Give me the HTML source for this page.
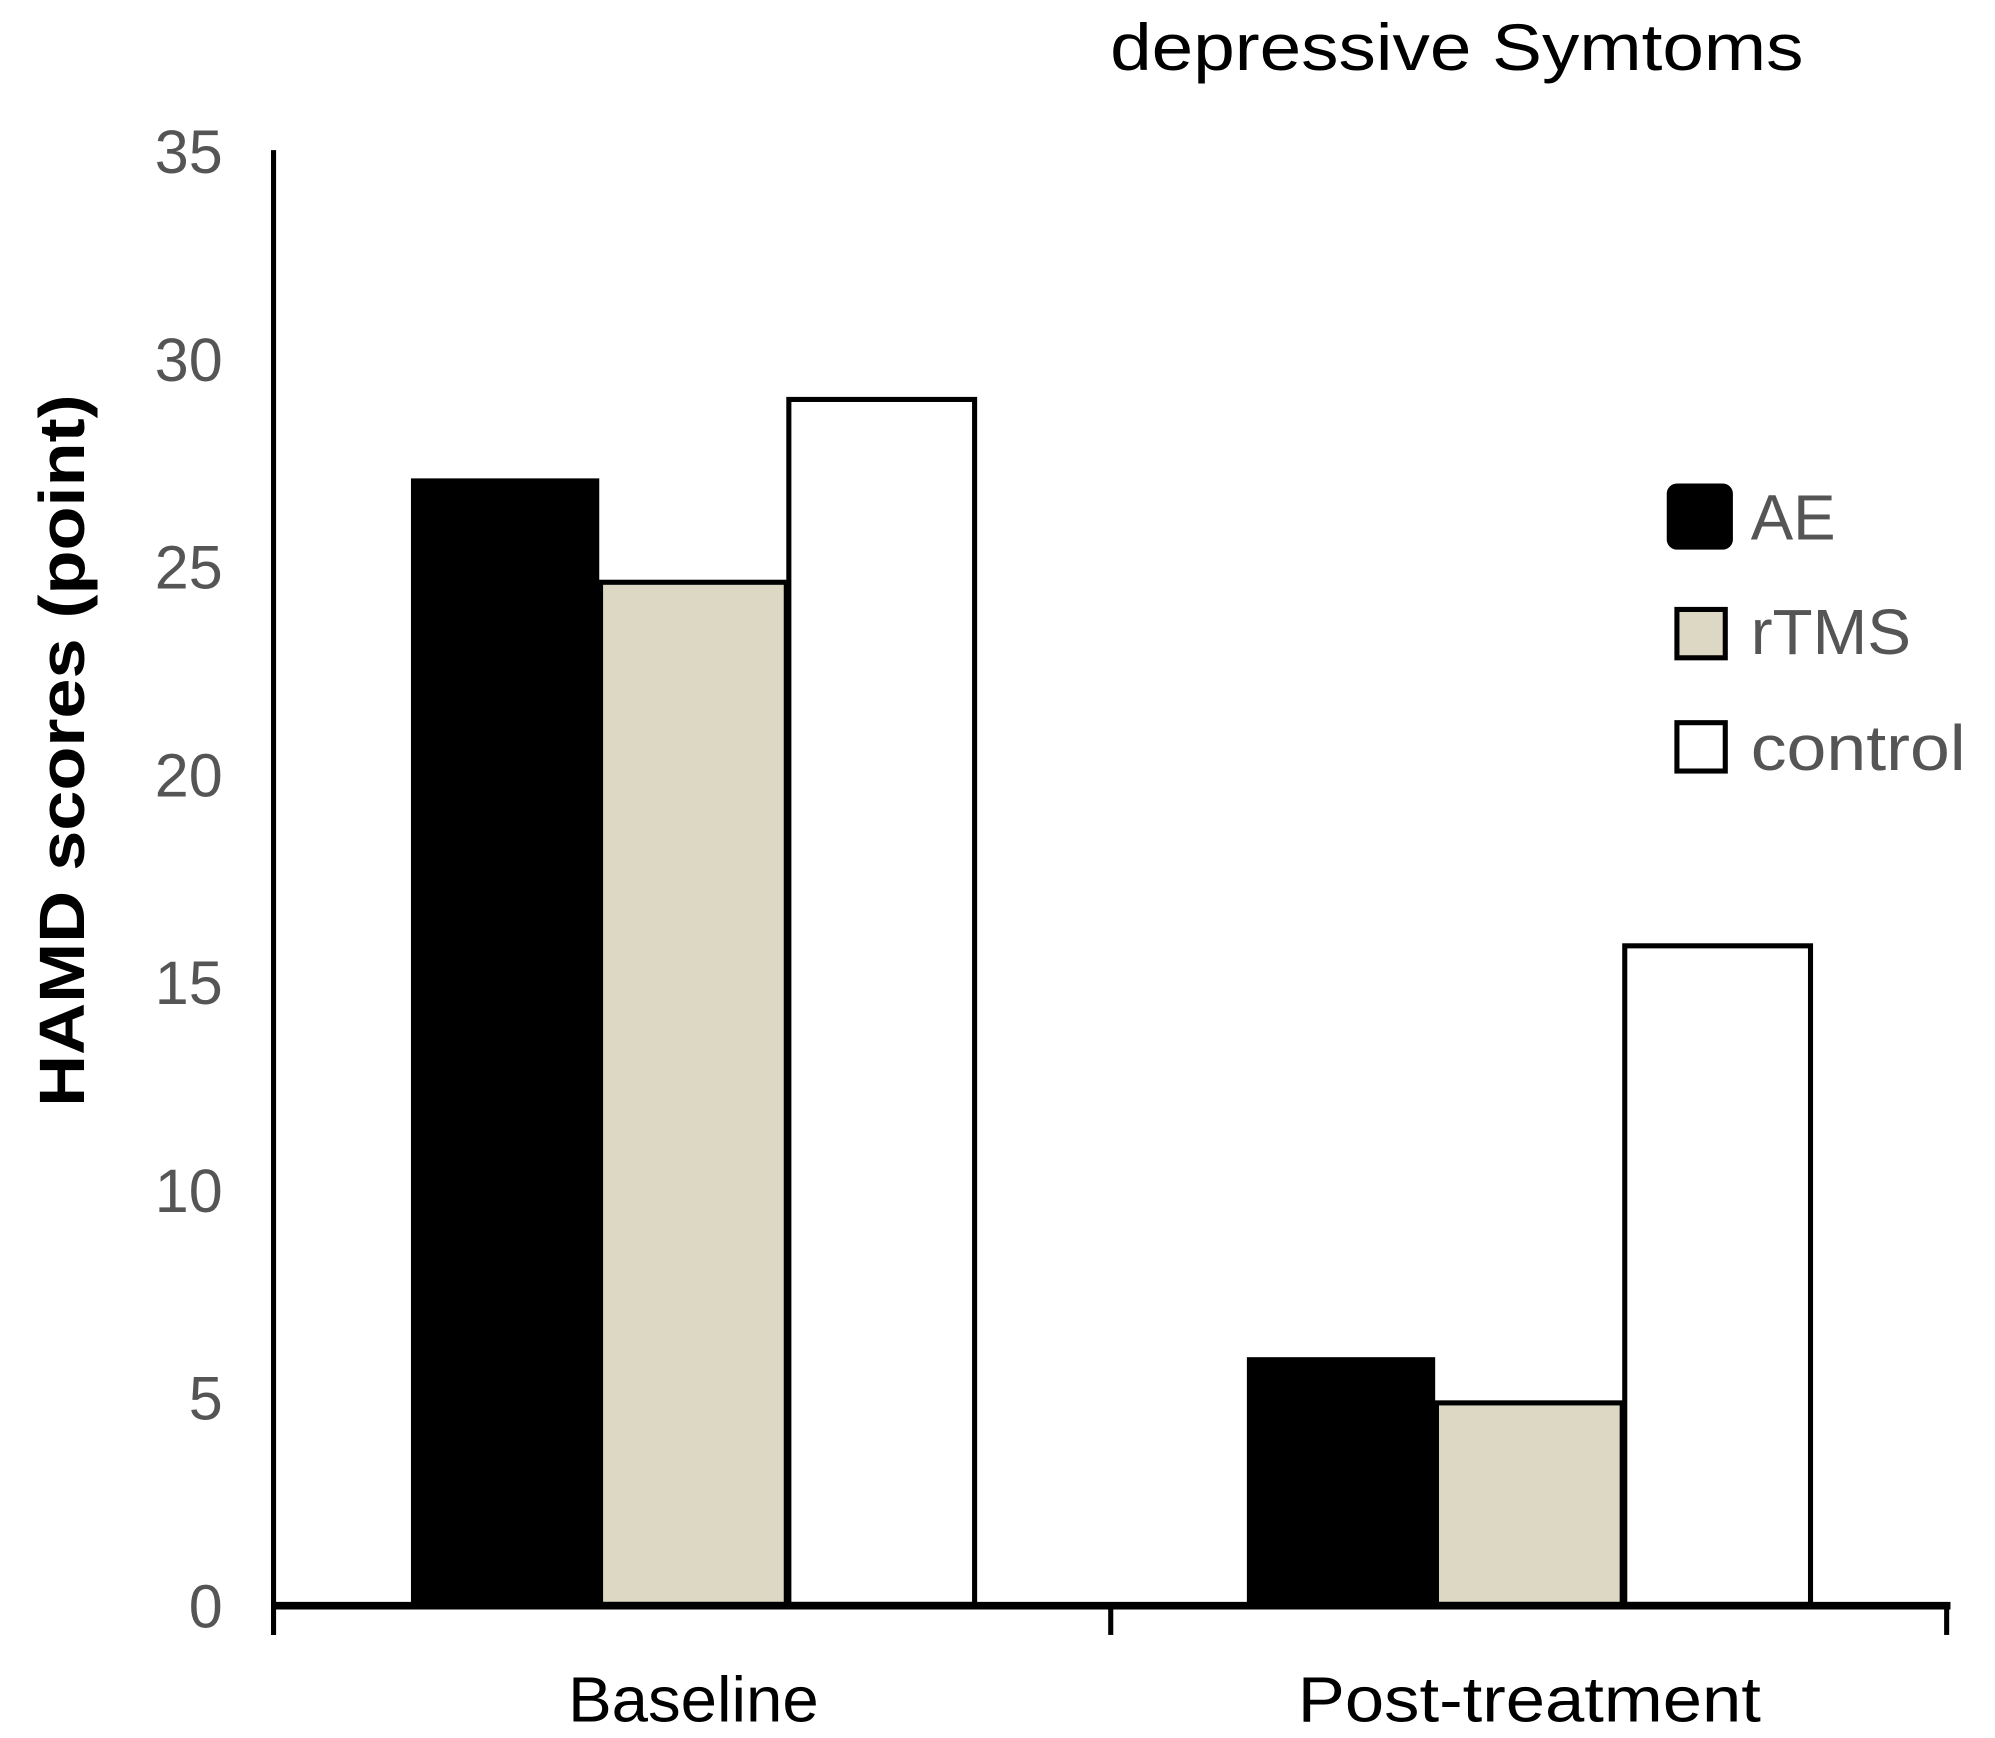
<!DOCTYPE html>
<html><head><meta charset="utf-8"><style>html,body{margin:0;padding:0;background:#fff;}svg{display:block;}</style></head>
<body>
<svg id="chart" width="1995" height="1738" viewBox="0 0 1568 1366" xmlns="http://www.w3.org/2000/svg" font-family="'Liberation Sans', sans-serif">
<text x="1145" y="55" font-size="52" text-anchor="middle" fill="#000" textLength="545" lengthAdjust="spacingAndGlyphs">depressive Symtoms</text>
<text transform="translate(66,590) rotate(-90)" font-size="50" font-weight="bold" text-anchor="middle" fill="#000" textLength="560" lengthAdjust="spacingAndGlyphs">HAMD scores (point)</text>
<g id="bars"></g>
<g id="yticks"></g>
<line x1="215" y1="118" x2="215" y2="1285" stroke="#000" stroke-width="4"/>
<line x1="213" y1="1262" x2="1533" y2="1262" stroke="#000" stroke-width="6"/>
<line x1="873" y1="1262" x2="873" y2="1285" stroke="#000" stroke-width="4"/>
<line x1="1530" y1="1262" x2="1530" y2="1285" stroke="#000" stroke-width="4"/>
<g id="xlabels"></g>
<g>
<rect x="1310" y="380" width="52" height="52" rx="8" fill="#000"/>
<text x="1376" y="424" font-size="50" fill="#555">AE</text>
<rect x="1318" y="479" width="38" height="38" fill="#ddd8c4" stroke="#000" stroke-width="4"/>
<text x="1376" y="514" font-size="50" fill="#555" textLength="126" lengthAdjust="spacingAndGlyphs">rTMS</text>
<text x="1376" y="605" font-size="50" fill="#555" textLength="169" lengthAdjust="spacingAndGlyphs">control</text>
<rect x="1318" y="568" width="38" height="38" fill="#fff" stroke="#000" stroke-width="4"/>
</g>
</svg>
<script>
const categories = ["Baseline", "Post-treatment"];
const seriesNames = ["AE", "rTMS", "control"];
const aeValues = [27.1, 5.95];
const rtmsValues = [24.6, 4.85];
const controlValues = [29.0, 15.85];
const yTicks = [0, 5, 10, 15, 20, 25, 30, 35];

const NS = "http://www.w3.org/2000/svg";
const y0 = 1261, yTop = 118, yMax = 35;
function yScale(v){ return y0 - (v / yMax) * (y0 - yTop); }
const groupStart = [323, 980];
const barW = 148;
function xScale(ci, si){ return groupStart[ci] + si * barW; }
const fills = ["#000", "#ddd8c4", "#fff"];
const allSeries = [aeValues, rtmsValues, controlValues];

const bars = document.getElementById("bars");
allSeries.forEach((vals, si) => {
  vals.forEach((v, ci) => {
    const r = document.createElementNS(NS, "rect");
    const x = xScale(ci, si), y = yScale(v);
    r.setAttribute("x", x + (si ? 1 : 0));
    r.setAttribute("y", y);
    r.setAttribute("width", barW - (si ? 2 : 0));
    r.setAttribute("height", y0 - y);
    r.setAttribute("fill", fills[si]);
    if (si > 0) { r.setAttribute("stroke", "#000"); r.setAttribute("stroke-width", "4"); }
    
    
    bars.appendChild(r);
  });
});

const yt = document.getElementById("yticks");
yTicks.forEach(t => {
  const tx = document.createElementNS(NS, "text");
  tx.setAttribute("x", 175);
  tx.setAttribute("y", yScale(t) + 18);
  tx.setAttribute("font-size", "48");
  tx.setAttribute("fill", "#555");
  tx.setAttribute("text-anchor", "end");
  tx.textContent = t;
  
  
  yt.appendChild(tx);
});

const xl = document.getElementById("xlabels");
const xLabelLens = [197, 364];
categories.forEach((c, ci) => {
  const tx = document.createElementNS(NS, "text");
  tx.setAttribute("x", groupStart[ci] + barW * 1.5);
  tx.setAttribute("y", 1353);
  tx.setAttribute("font-size", "50");
  tx.setAttribute("fill", "#000");
  tx.setAttribute("text-anchor", "middle");
  tx.setAttribute("textLength", xLabelLens[ci]);
  tx.setAttribute("lengthAdjust", "spacingAndGlyphs");
  tx.textContent = c;
  
  
  xl.appendChild(tx);
});
</script>
</body></html>
